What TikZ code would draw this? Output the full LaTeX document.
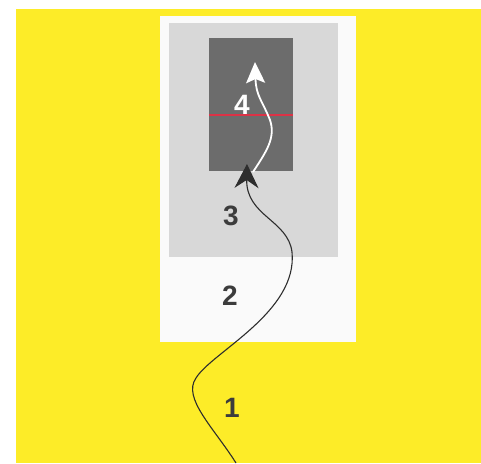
\documentclass[tikz,border=0pt]{standalone}
\usepackage{fontspec}
\setmainfont{Liberation Sans}
\usepackage{tikz}
\usetikzlibrary{arrows.meta, positioning, calc}
\definecolor{zoneYellow}{RGB}{253, 236, 40}
\definecolor{zoneWhite}{RGB}{250, 250, 250}
\definecolor{zoneLight}{RGB}{216, 216, 216}
\definecolor{zoneDark}{RGB}{108, 108, 108}
\definecolor{digitGray}{RGB}{60, 60, 60}
\definecolor{pathGray}{RGB}{45, 45, 45}
\definecolor{markRed}{RGB}{220, 50, 70}
\tikzset{
    zoneNum/.style={font=\fontsize{28}{28}\selectfont\bfseries, text=digitGray, inner sep=0pt},
    outerPath/.style={line width=1.1pt, pathGray, -{Stealth[length=24pt, width=24pt, inset=8pt]}},
    innerPath/.style={line width=1.8pt, white, -{Stealth[length=21pt, width=19pt, inset=4pt]}},
}

\begin{document}
\begin{tikzpicture}[x=1pt, y=-1pt]

    \useasboundingbox (0,0) rectangle (481,463);

    % Background and zones
    \fill[white] (0,0) rectangle (481,463);
    \fill[zoneYellow] (16,9) rectangle (481,463);
    \fill[zoneWhite] (160,16) rectangle (356,342);
    \fill[zoneLight] (169,23) rectangle (338,257);
    \fill[zoneDark] (209,38) rectangle (293,171);
    \fill[markRed] (209,114) rectangle (293,116);

    % Zone numbers
    \node[zoneNum] (one) at (232,408) {1};
    \node[zoneNum] (two) at (230,296) {2};
    \node[zoneNum] (three) at (231,216) {3};
    \node[zoneNum, text=white] (four) at (242,105) {4};

    % Route points
    \coordinate (entry) at (236,463);
    \coordinate (gate) at (247,164);
    \coordinate (start) at (253,172);
    \coordinate (goal) at (255,62);

    % Routes
    \draw[outerPath] (entry)
        .. controls (214,428) and (182,398) .. (196,378)
        .. controls (212,352) and (298,312) .. (292,252)
        .. controls (288,220) and (246,216) .. (gate);
    \draw[innerPath] (start)
        .. controls (266,152) and (276,138) .. (270,120)
        .. controls (262,100) and (256,96) .. (goal);

\end{tikzpicture}
\end{document}
